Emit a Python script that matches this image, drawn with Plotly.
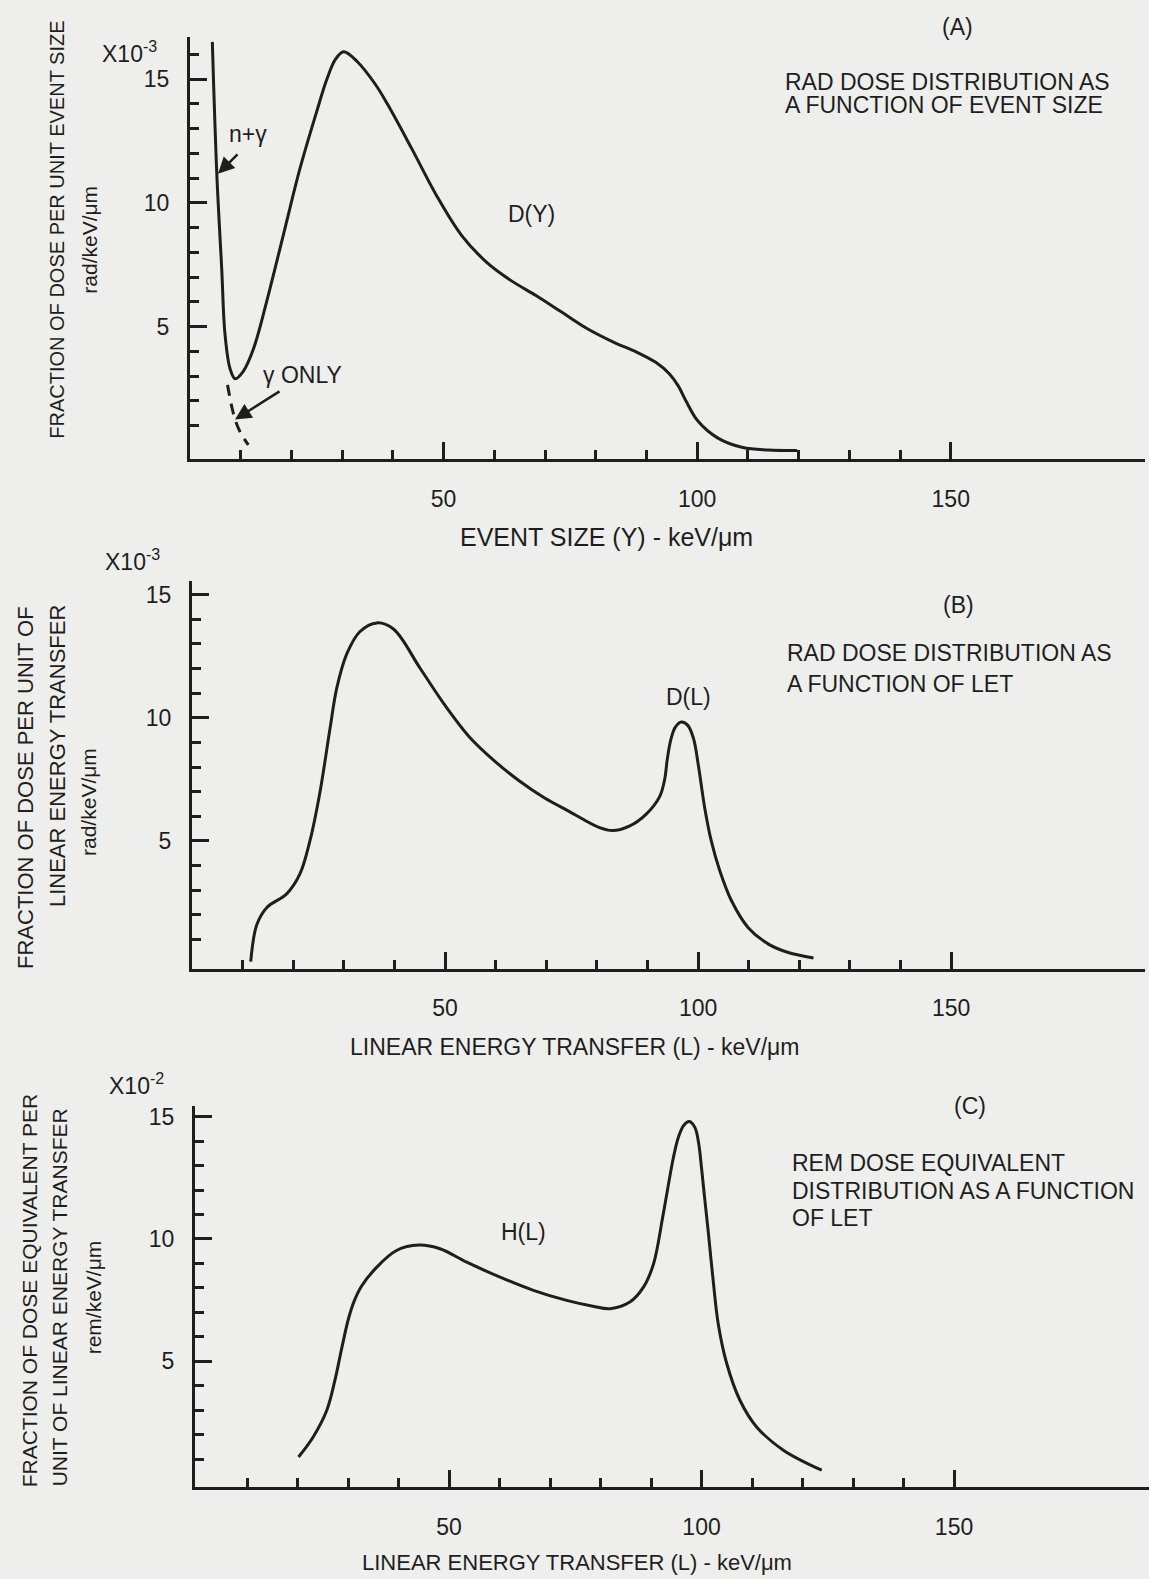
import plotly.graph_objects as go

W, H = 1149, 1579

# ---------------- data ----------------
# Panel A: dose distribution vs event size, n+gamma (solid) and gamma only (dashed)
a_x = [4.4, 5.3, 6.25, 6.9, 7.9, 8.9, 10.5, 12.5, 15.1, 18.4, 21.7, 25.0, 27.0, 28.7,
       30.3, 33.0, 36.5, 38.9, 43.7, 48.6, 53.5, 58.5, 63.4, 68.3, 73.2, 78.1,
       83.8, 87.8, 91.9, 94.5, 96.3, 97.8, 100.1, 104.1, 109.0, 114.0, 119.7]
a_y = [16.5, 11.1, 7.35, 4.7, 3.3, 2.9, 3.2, 4.1, 6.0, 8.7, 11.4, 13.7, 15.0, 15.8,
       16.1, 15.7, 14.8, 14.0, 12.2, 10.3, 8.7, 7.6, 6.85, 6.25, 5.6, 4.95,
       4.35, 4.0, 3.55, 3.1, 2.6, 2.0, 1.2, 0.5, 0.12, 0.02, 0.0]
a_gamma_x = [7.4, 8.2, 8.9, 10.0, 11.5]
a_gamma_y = [2.65, 1.8, 1.25, 0.7, 0.23]

# Panel B: rad dose distribution vs LET
b_x = [11.6, 12.8, 14.8, 18.7, 21.3, 23.3, 25.3, 27.3, 28.6, 30.6, 33.2, 36.5, 39.8,
       45.1, 50.0, 54.9, 59.8, 64.7, 69.6, 74.5, 80.4, 83.1, 86.4, 89.7, 92.4, 93.4,
       93.9, 94.6, 95.5, 96.7, 98.0, 99.1, 100.1, 101.3, 102.6, 104.3, 106.6, 109.9,
       113.9, 117.8, 122.8]
b_y = [0.1, 1.6, 2.3, 2.85, 3.65, 5.0, 7.0, 9.6, 11.2, 12.6, 13.5, 13.85, 13.6,
       12.0, 10.5, 9.2, 8.24, 7.43, 6.75, 6.2, 5.55, 5.42, 5.6, 6.08, 6.8, 7.5,
       8.3, 9.1, 9.62, 9.83, 9.68, 9.15, 8.0, 6.35, 5.0, 3.78, 2.57, 1.48,
       0.81, 0.47, 0.25]

# Panel C: rem dose equivalent distribution vs LET
c_x = [20.2, 23.1, 25.8, 27.4, 28.8, 30.1, 31.2, 32.6, 35.7, 39.6, 44.0, 48.2, 53.5,
       60.1, 66.7, 73.3, 78.5, 81.9, 85.8, 88.5, 90.5, 92.4, 94.4, 95.4, 96.5, 97.6,
       98.7, 99.4, 100.0, 100.6, 101.3, 102.3, 103.3, 105.0, 107.6, 110.9, 116.2, 123.8]
c_y = [1.09, 1.91, 3.0, 4.22, 5.58, 6.75, 7.45, 8.05, 8.85, 9.53, 9.75, 9.6, 9.05,
       8.44, 7.9, 7.49, 7.25, 7.15, 7.42, 8.03, 8.99, 11.0, 13.3, 14.15, 14.65, 14.8,
       14.55, 13.95, 12.9, 11.7, 10.35, 8.31, 6.54, 4.9, 3.41, 2.32, 1.37, 0.55]

x_major = [50, 100, 150]
x_major_text = ["50", "100", "150"]
x_minor = [10, 20, 30, 40, 60, 70, 80, 90, 110, 120, 130, 140]
y_major = [5, 10, 15]
y_major_text = ["5", "10", "15"]

# ---------------- styling ----------------
INK = "#1e1e1e"
BG = "#eeeeec"
FONT = "Liberation Sans, Arial, sans-serif"
FS = 23


def px(X, Y):
    return X / W, 1 - Y / H


fig = go.Figure()
line = dict(color=INK, width=3, shape="spline", smoothing=1.0)
fig.add_trace(go.Scatter(x=a_x, y=a_y, mode="lines", line=line, xaxis="x", yaxis="y"))
fig.add_trace(go.Scatter(x=a_gamma_x, y=a_gamma_y, mode="lines",
                         line=dict(color=INK, width=3, dash="11px,8px", shape="spline"),
                         xaxis="x", yaxis="y"))
fig.add_trace(go.Scatter(x=b_x, y=b_y, mode="lines", line=line, xaxis="x2", yaxis="y2"))
fig.add_trace(go.Scatter(x=c_x, y=c_y, mode="lines", line=line, xaxis="x3", yaxis="y3"))


def xaxis(domain_px, rng, anchor):
    return dict(
        domain=[domain_px[0] / W, domain_px[1] / W], range=rng, anchor=anchor,
        showline=True, linecolor=INK, linewidth=3, showgrid=False, zeroline=False,
        tickmode="array", tickvals=x_major, ticktext=x_major_text,
        ticks="inside", ticklen=17, tickwidth=2.5, tickcolor=INK,
        ticklabelstandoff=17,
        tickfont=dict(family=FONT, size=FS, color=INK),
        minor=dict(tickmode="array", tickvals=x_minor, ticks="inside", ticklen=9,
                   tickwidth=2.5, tickcolor=INK, showgrid=False),
    )


def yaxis(domain_px, rng, anchor, ymax_minor):
    return dict(
        domain=[1 - domain_px[1] / H, 1 - domain_px[0] / H], range=rng, anchor=anchor,
        showline=True, linecolor=INK, linewidth=3, showgrid=False, zeroline=False,
        tickmode="array", tickvals=y_major, ticktext=y_major_text,
        ticks="inside", ticklen=17, tickwidth=2.5, tickcolor=INK,
        ticklabelstandoff=13,
        tickfont=dict(family=FONT, size=FS, color=INK),
        minor=dict(tickmode="array", tickvals=[v for v in range(1, ymax_minor + 1) if v % 5],
                   ticks="inside", ticklen=9, tickwidth=2.5, tickcolor=INK, showgrid=False),
    )


fig.update_layout(
    width=W, height=H, autosize=False,
    margin=dict(l=0, r=0, t=0, b=0),
    paper_bgcolor=BG, plot_bgcolor=BG,
    showlegend=False,
    font=dict(family=FONT, size=FS, color=INK),
    xaxis=xaxis((190, 1145), [0, 188.3], "y"),
    yaxis=yaxis((35, 458), [-0.36, 16.7], "x", 16),
    xaxis2=xaxis((192, 1145), [0, 188.3], "y2"),
    yaxis2=yaxis((580, 968), [-0.19, 15.54], "x2", 14),
    xaxis3=xaxis((195, 1149), [-0.3, 188.6], "y3"),
    yaxis3=yaxis((1105, 1487), [-0.14, 15.45], "x3", 14),
)

ann = []


def text(X, Y, s, xanchor="center", angle=0, size=FS):
    x, y = px(X, Y)
    ann.append(dict(x=x, y=y, xref="paper", yref="paper", text=s, showarrow=False,
                    xanchor=xanchor, yanchor="middle", textangle=angle,
                    font=dict(family=FONT, size=size, color=INK)))


def arrow(hx, hy, tx, ty):
    x, y = px(hx, hy)
    ann.append(dict(x=x, y=y, xref="paper", yref="paper", text="", showarrow=True,
                    ax=tx - hx, ay=ty - hy, arrowhead=2, arrowsize=1.3, arrowwidth=2.5,
                    arrowcolor=INK, standoff=0))


# Panel A
text(100, 50, "X10<sup>-3</sup>", xanchor="left")
text(57, 228, "FRACTION OF DOSE PER UNIT EVENT SIZE", angle=-90, size=20)
text(90, 238, "rad/keV/μm", angle=-90, size=21)
text(957, 25, "(A)")
text(783, 80, "RAD DOSE DISTRIBUTION AS", xanchor="left")
text(783, 103, "A FUNCTION OF EVENT SIZE", xanchor="left")
text(531, 212, "D(Y)")
text(248, 132, "n+γ")
arrow(218, 172, 239, 151)
text(302, 373, "γ ONLY")
arrow(235, 418, 281, 389)
text(606, 536, "EVENT SIZE (Y) - keV/μm", size=25)

# Panel B
text(103, 559, "X10<sup>-3</sup>", xanchor="left")
text(25, 787, "FRACTION OF DOSE PER UNIT OF", angle=-90, size=22)
text(57, 755, "LINEAR ENERGY TRANSFER", angle=-90, size=22)
text(89, 801, "rad/keV/μm", angle=-90, size=21)
text(958, 604, "(B)")
text(785, 652, "RAD DOSE DISTRIBUTION AS", xanchor="left")
text(785, 683, "A FUNCTION OF LET", xanchor="left")
text(688, 696, "D(L)")
text(575, 1046, "LINEAR ENERGY TRANSFER (L) - keV/μm")

# Panel C
text(107, 1083, "X10<sup>-2</sup>", xanchor="left")
text(29, 1290, "FRACTION OF DOSE EQUIVALENT PER", angle=-90, size=21)
text(59, 1297, "UNIT OF LINEAR ENERGY TRANSFER", angle=-90, size=21)
text(93, 1297, "rem/keV/μm", angle=-90, size=21)
text(970, 1105, "(C)")
text(790, 1162, "REM DOSE EQUIVALENT", xanchor="left")
text(790, 1191, "DISTRIBUTION AS A FUNCTION", xanchor="left")
text(790, 1218, "OF LET", xanchor="left")
text(523, 1232, "H(L)")
text(577, 1562, "LINEAR ENERGY TRANSFER (L) - keV/μm", size=22)

fig.update_layout(annotations=ann)
fig.write_html("out.html")
